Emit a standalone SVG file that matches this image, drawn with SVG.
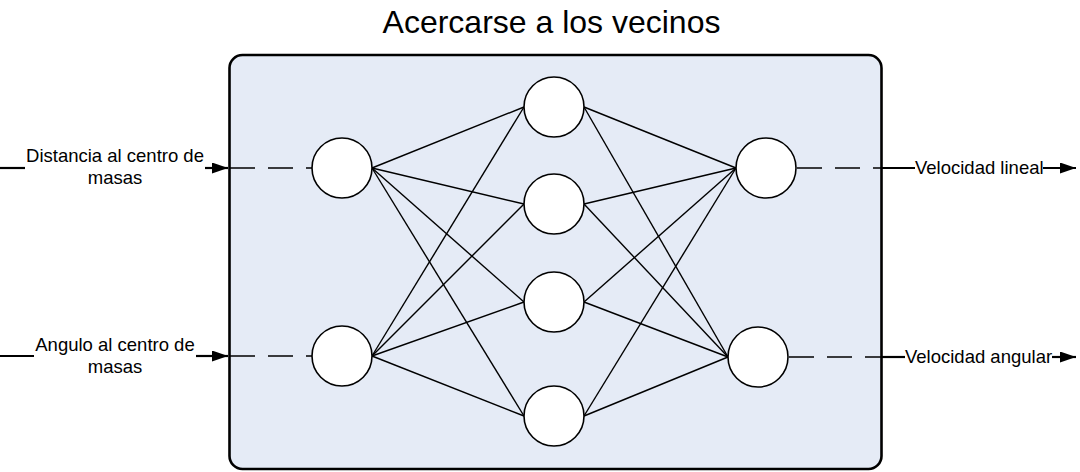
<svg xmlns="http://www.w3.org/2000/svg" width="1080" height="472" viewBox="0 0 1080 472">
<style>
.t{font-family:"Liberation Sans",Arial,sans-serif;fill:#000;font-size:18.5px}
.title{font-family:"Liberation Sans",Arial,sans-serif;fill:#000;font-size:32px}
.node{fill:#fff;stroke:#000;stroke-width:1.6}
.edge{stroke:#000;stroke-width:1.4;fill:none}
.dash{stroke:#000;stroke-width:1.5;stroke-dasharray:25 13;fill:none}
.io{stroke:#000;stroke-width:2.2;fill:none}
</style>
<defs>
<marker id="ah" markerUnits="userSpaceOnUse" markerWidth="16" markerHeight="11" refX="16" refY="5.5" orient="auto">
<path d="M0,0 L16,5.5 L0,11 z" fill="#000"/>
</marker>
</defs>
<rect x="0" y="0" width="1080" height="472" fill="#fff"/>
<text class="title" x="551.5" y="33" text-anchor="middle">Acercarse a los vecinos</text>
<g id="container">
<rect x="229.5" y="55" width="652" height="414" rx="13" ry="13" fill="#E5EBF6" stroke="#000" stroke-width="2.6"/>
</g>
<g id="connectors">
<line class="edge" x1="372" y1="168" x2="524" y2="107"/>
<line class="edge" x1="372" y1="168" x2="524" y2="204"/>
<line class="edge" x1="372" y1="168" x2="524" y2="302"/>
<line class="edge" x1="372" y1="168" x2="524" y2="416"/>
<line class="edge" x1="372" y1="356" x2="524" y2="107"/>
<line class="edge" x1="372" y1="356" x2="524" y2="204"/>
<line class="edge" x1="372" y1="356" x2="524" y2="302"/>
<line class="edge" x1="372" y1="356" x2="524" y2="416"/>
<line class="edge" x1="584" y1="107" x2="736" y2="168"/>
<line class="edge" x1="584" y1="204" x2="736" y2="168"/>
<line class="edge" x1="584" y1="302" x2="736" y2="168"/>
<line class="edge" x1="584" y1="416" x2="736" y2="168"/>
<line class="edge" x1="584" y1="107" x2="728" y2="357"/>
<line class="edge" x1="584" y1="204" x2="728" y2="357"/>
<line class="edge" x1="584" y1="302" x2="728" y2="357"/>
<line class="edge" x1="584" y1="416" x2="728" y2="357"/>
<line class="dash" x1="230" y1="168" x2="312" y2="168"/>
<line class="dash" x1="230" y1="356" x2="312" y2="356"/>
<line class="dash" x1="797" y1="168" x2="881" y2="168"/>
<line class="dash" x1="789" y1="357" x2="881" y2="357"/>
<line class="io" x1="0" y1="168" x2="25" y2="168"/>
<line class="io" x1="205" y1="168" x2="228" y2="168" marker-end="url(#ah)"/>
<line class="io" x1="0" y1="356" x2="34" y2="356"/>
<line class="io" x1="196" y1="356" x2="228" y2="356" marker-end="url(#ah)"/>
<line class="io" x1="882" y1="168" x2="915" y2="168"/>
<line class="io" x1="1043" y1="168" x2="1076" y2="168" marker-end="url(#ah)"/>
<line class="io" x1="882" y1="357" x2="905" y2="357"/>
<line class="io" x1="1052" y1="357" x2="1076" y2="357" marker-end="url(#ah)"/>
</g>
<g id="in1"><circle class="node" cx="342" cy="168" r="30"/></g>
<g id="in2"><circle class="node" cx="342" cy="356" r="30"/></g>
<g id="h1"><circle class="node" cx="554" cy="107" r="30"/></g>
<g id="h2"><circle class="node" cx="554" cy="204" r="30"/></g>
<g id="h3"><circle class="node" cx="554" cy="302" r="30"/></g>
<g id="h4"><circle class="node" cx="554" cy="416" r="30"/></g>
<g id="out1"><circle class="node" cx="766" cy="168" r="30"/></g>
<g id="out2"><circle class="node" cx="758" cy="357" r="30"/></g>
<g id="labels">
<text class="t" x="115" y="162" text-anchor="middle">Distancia al centro de</text>
<text class="t" x="115" y="184" text-anchor="middle">masas</text>
<text class="t" x="115" y="351" text-anchor="middle">Angulo al centro de</text>
<text class="t" x="115" y="373" text-anchor="middle">masas</text>
<text class="t" x="915" y="174">Velocidad lineal</text>
<text class="t" x="905" y="363">Velocidad angular</text>
</g>
</svg>
